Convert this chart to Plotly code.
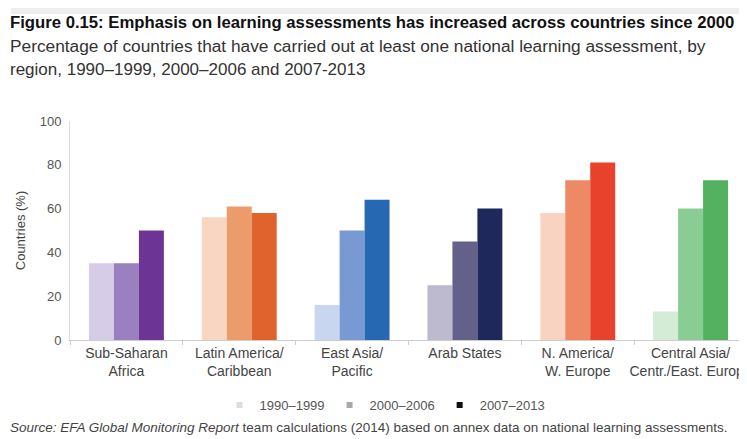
import plotly.graph_objects as go

regions = ["Sub-Saharan<br>Africa", "Latin America/<br>Caribbean", "East Asia/<br>Pacific",
           "Arab States", "N. America/<br>W. Europe", "Central Asia/<br>Centr./East. Europe"]
periods = ["1990–1999", "2000–2006", "2007–2013"]
v_1990_1999 = [35, 56, 16, 25, 58, 13]
v_2000_2006 = [35, 61, 50, 45, 73, 60]
v_2007_2013 = [50, 58, 64, 60, 81, 73]
colors_1990_1999 = ["#d6cce7", "#f8d6c2", "#c9d6ef", "#bdbacf", "#f9d3c2", "#d4ecd6"]
colors_2000_2006 = ["#9b80bf", "#ec9b6b", "#7899d1", "#63608a", "#ee8966", "#89cd95"]
colors_2007_2013 = ["#6c3595", "#e0622c", "#2668b1", "#1f285b", "#e8422d", "#53b15f"]
legend_colors = ["#dddddd", "#a8a8a8", "#111111"]

# The page body has an 8px default margin, so the figure starts at (8, 8) in the window.
OFF = 8
W, H = 747 - OFF, 439 - OFF
L, R, T = 70 - OFF, 0, 121 - OFF
B = H - (340 - OFF)
PW, PH = W - L - R, H - T - B

def px_x(x):  # window pixel -> paper fraction
    return (x - OFF - L) / PW

def px_y(y):
    return (H - B - (y - OFF)) / PH

REG = "Liberation Sans, Arial, sans-serif"

fig = go.Figure()
for name, vals, cols in zip(periods, [v_1990_1999, v_2000_2006, v_2007_2013],
                            [colors_1990_1999, colors_2000_2006, colors_2007_2013]):
    fig.add_trace(go.Bar(x=regions, y=vals, name=name, marker=dict(color=cols, line=dict(width=0)),
                         showlegend=False))
for name, c in zip(periods, legend_colors):
    fig.add_trace(go.Scatter(x=[None], y=[None], mode="markers", name=name,
                             marker=dict(symbol="square", size=6, color=c)))

fig.update_layout(
    width=W, height=H,
    margin=dict(l=L, r=R, t=T, b=B, autoexpand=False),
    paper_bgcolor="white", plot_bgcolor="white",
    barmode="group", bargap=0.336, bargroupgap=0,
    legend=dict(orientation="h", x=px_x(385), xanchor="center", y=px_y(405), yanchor="middle",
                font=dict(family=REG, size=13, color="#555555"),
                tracegroupgap=0),
    xaxis=dict(range=[-0.5, 5.5], showline=True, linecolor="#cccccc", linewidth=1,
               ticks="outside", tickson="boundaries", ticklen=4, tickcolor="#cccccc",
               tickangle=0, automargin=False,
               tickfont=dict(family=REG, size=14, color="#444444"), showgrid=False),
    yaxis=dict(range=[0, 100], tickvals=[0, 20, 40, 60, 80, 100], showline=True,
               linecolor="#dddddd", linewidth=1, showgrid=False, zeroline=False,
               ticks="", ticklabelstandoff=5, automargin=False,
               tickfont=dict(family=REG, size=13, color="#555555"),
               title=dict(text="Countries (%)", font=dict(family=REG, size=13, color="#444444"),
                          standoff=11)),
    shapes=[dict(type="rect", xref="paper", yref="paper", x0=px_x(11), x1=px_x(747),
                 y0=px_y(14), y1=px_y(8), fillcolor="#eeeeee", line=dict(width=0), layer="below")],
    annotations=[
        dict(text="<b>Figure 0.15: Emphasis on learning assessments has increased across countries since 2000</b>",
             xref="paper", yref="paper", x=px_x(8), y=px_y(22), xanchor="left", yanchor="middle",
             showarrow=False, font=dict(family=REG, size=16.7, color="#111111")),
        dict(text="Percentage of countries that have carried out at least one national learning assessment, by",
             xref="paper", yref="paper", x=px_x(8), y=px_y(46), xanchor="left", yanchor="middle",
             showarrow=False, font=dict(family=REG, size=17.3, color="#333333")),
        dict(text="region, 1990–1999, 2000–2006 and 2007-2013",
             xref="paper", yref="paper", x=px_x(8), y=px_y(69), xanchor="left", yanchor="middle",
             showarrow=False, font=dict(family=REG, size=17, color="#333333")),
        dict(text="<i>Source: EFA Global Monitoring Report</i> team calculations (2014) based on annex data on national learning assessments.",
             xref="paper", yref="paper", x=px_x(8), y=px_y(427), xanchor="left", yanchor="middle",
             showarrow=False, font=dict(family=REG, size=13.5, color="#444444")),
    ],
)

fig.write_html("out.html")
